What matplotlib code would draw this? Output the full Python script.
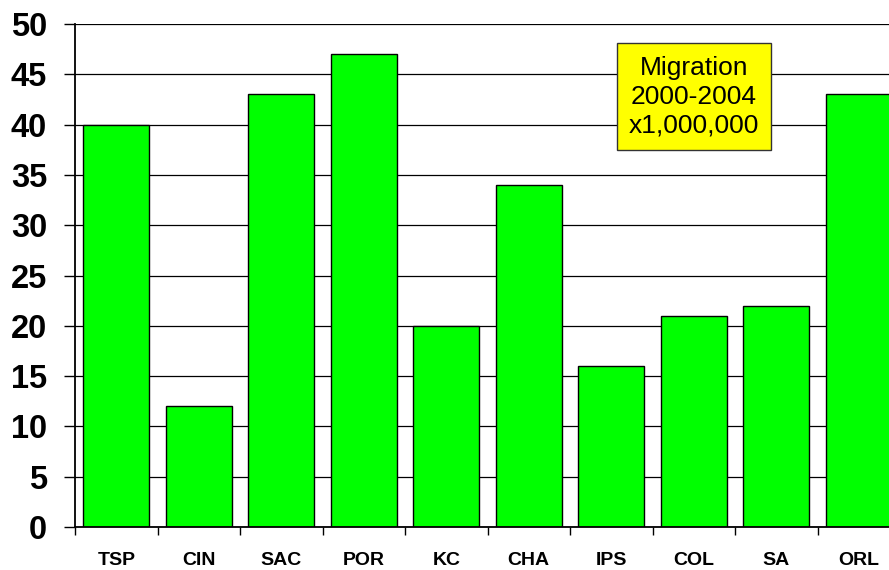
import matplotlib
matplotlib.use("Agg")
import matplotlib.pyplot as plt
from matplotlib.patches import Rectangle
import numpy as np

categories = ["TSP", "CIN", "SAC", "POR", "KC", "CHA", "IPS", "COL", "SA", "ORL"]
values = [40, 12, 43, 47, 20, 34, 16, 21, 22, 43]
yticks = [0, 5, 10, 15, 20, 25, 30, 35, 40, 45, 50]

plt.rcParams['font.family'] = ['Liberation Sans', 'DejaVu Sans']

W, H = 889, 570
fig = plt.figure(figsize=(W/100, H/100), dpi=100)
ax = fig.add_axes([75/W, 1-527/H, 825/W, 503/H])

x = np.arange(len(categories))
ax.bar(x, values, width=0.8, color="#00FF00", edgecolor="black", linewidth=1.0, zorder=3)

ax.set_xlim(-0.5, len(categories) - 0.5)
ax.set_ylim(0, 50)
ax.set_yticks(yticks)
ax.set_yticklabels([str(v) for v in yticks], fontsize=23.5, fontweight="bold")
ax.yaxis.grid(True, color="black", linewidth=0.9, zorder=0)
ax.set_axisbelow(True)

ax.set_xticks(x)
ax.set_xticklabels(categories, fontsize=14, fontweight="bold")
ax.set_xticks(np.arange(-0.5, len(categories) + 0.5, 1), minor=True)
ax.tick_params(axis="x", which="major", length=0, pad=18)
ax.tick_params(axis="x", which="minor", length=6, width=1.0, color="black")
ax.tick_params(axis="y", length=8, width=1.0, pad=12)

for s in ["top", "right"]:
    ax.spines[s].set_visible(False)
for s in ["left", "bottom"]:
    ax.spines[s].set_linewidth(1.3)
    ax.spines[s].set_zorder(4)

# annotation box
bx0, by0, bx1, by1 = 617, 43, 771, 150
fig.patches.append(Rectangle((bx0/W, 1-by1/H), (bx1-bx0)/W, (by1-by0)/H,
                             transform=fig.transFigure, facecolor="#FFFF00",
                             edgecolor="#333333", linewidth=1.0, zorder=10))
fig.text((bx0+bx1)/2/W, 1-(by0+by1)/2/H, "Migration\n2000-2004\nx1,000,000",
         ha="center", va="center", fontsize=19, linespacing=1.25, zorder=11)

fig.savefig("out.png", dpi=100)
